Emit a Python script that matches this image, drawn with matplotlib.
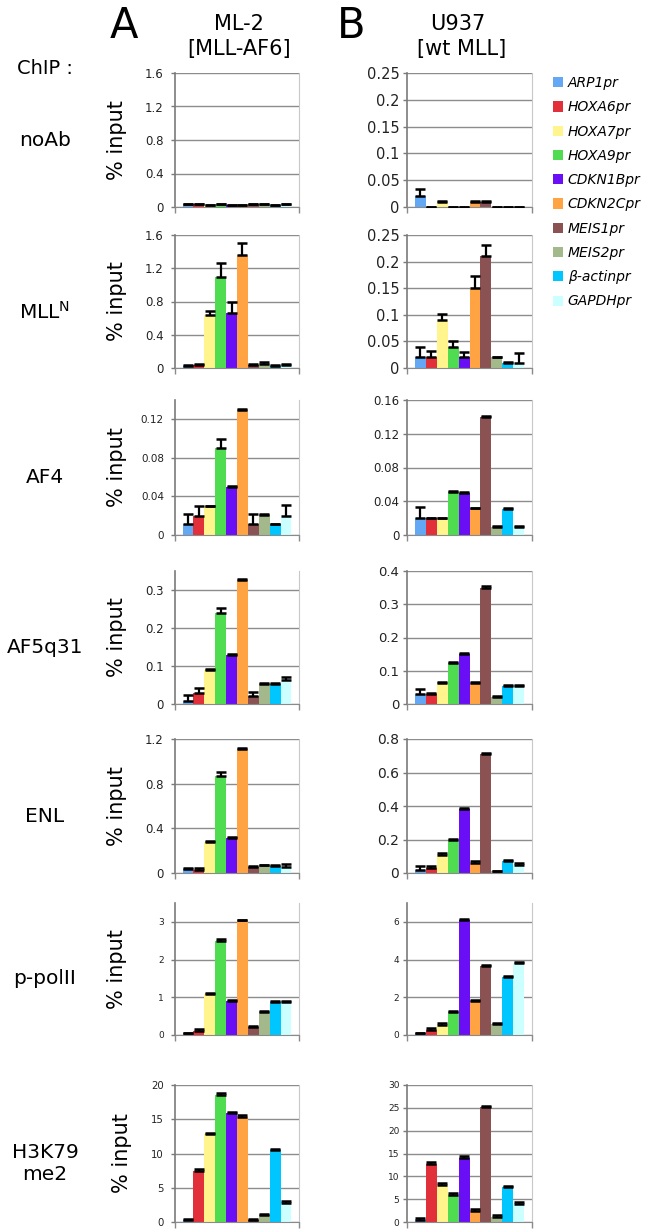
import matplotlib
matplotlib.use('Agg')
import matplotlib.pyplot as plt
from matplotlib.patches import Patch
from matplotlib.ticker import MultipleLocator, FuncFormatter
import numpy as np

genes = ['ARP1pr', 'HOXA6pr', 'HOXA7pr', 'HOXA9pr', 'CDKN1Bpr', 'CDKN2Cpr',
         'MEIS1pr', 'MEIS2pr', 'β-actinpr', 'GAPDHpr']
colors = ['#62a8f5', '#e1303a', '#fff58c', '#50dc50', '#6a0ff5', '#ffa343',
          '#8a5252', '#a3b98c', '#00c6ff', '#ccffff']
chip_labels = ['noAb', r'MLL$^\mathregular{N}$', 'AF4', 'AF5q31', 'ENL', 'p-polII', 'H3K79\nme2']

# column A: ML-2 [MLL-AF6]
noab_ml2 = [0.03, 0.03, 0.02, 0.03, 0.02, 0.02, 0.03, 0.03, 0.02, 0.03]
noab_ml2_err = [0.01, 0.01, 0.005, 0.01, 0.005, 0.005, 0.01, 0.01, 0.005, 0.01]
mll_ml2 = [0.03, 0.04, 0.64, 1.10, 0.66, 1.36, 0.04, 0.05, 0.03, 0.04]
mll_ml2_err = [0.01, 0.01, 0.04, 0.16, 0.14, 0.14, 0.01, 0.02, 0.01, 0.01]
af4_ml2 = [0.011, 0.02, 0.03, 0.09, 0.05, 0.13, 0.011, 0.021, 0.011, 0.02]
af4_ml2_err = [0.011, 0.01, 0.0005, 0.01, 0.0005, 0.0005, 0.011, 0.001, 0.0005, 0.011]
af5_ml2 = [0.009, 0.03, 0.09, 0.24, 0.128, 0.327, 0.022, 0.052, 0.052, 0.064]
af5_ml2_err = [0.015, 0.012, 0.003, 0.013, 0.003, 0.003, 0.009, 0.002, 0.002, 0.008]
enl_ml2 = [0.035, 0.03, 0.28, 0.87, 0.31, 1.11, 0.05, 0.07, 0.065, 0.05]
enl_ml2_err = [0.01, 0.015, 0.005, 0.035, 0.015, 0.005, 0.012, 0.005, 0.005, 0.03]
polii_ml2 = [0.04, 0.1, 1.08, 2.5, 0.91, 3.04, 0.2, 0.6, 0.87, 0.87]
polii_ml2_err = [0.02, 0.05, 0.03, 0.04, 0.03, 0.02, 0.05, 0.03, 0.03, 0.03]
h3k79_ml2 = [0.3, 7.5, 12.8, 18.6, 15.9, 15.4, 0.3, 1.0, 10.5, 2.8]
h3k79_ml2_err = [0.2, 0.2, 0.2, 0.2, 0.2, 0.2, 0.2, 0.2, 0.2, 0.2]

# column B: U937 [wt MLL]
noab_u937 = [0.02, 0, 0.01, 0, 0, 0.01, 0.01, 0, 0, 0]
noab_u937_err = [0.013, 0, 0.001, 0, 0, 0.001, 0.001, 0, 0, 0]
mll_u937 = [0.02, 0.02, 0.09, 0.04, 0.02, 0.15, 0.21, 0.02, 0.01, 0.01]
mll_u937_err = [0.02, 0.012, 0.011, 0.01, 0.01, 0.022, 0.022, 0.001, 0.001, 0.018]
af4_u937 = [0.02, 0.02, 0.02, 0.051, 0.05, 0.032, 0.14, 0.01, 0.031, 0.01]
af4_u937_err = [0.013, 0.0005, 0.0005, 0.001, 0.001, 0.0005, 0.001, 0.0005, 0.0005, 0.0005]
af5_u937 = [0.03, 0.03, 0.062, 0.122, 0.149, 0.062, 0.35, 0.022, 0.053, 0.053]
af5_u937_err = [0.016, 0.002, 0.003, 0.003, 0.004, 0.003, 0.004, 0.002, 0.003, 0.003]
enl_u937 = [0.02, 0.03, 0.11, 0.20, 0.38, 0.06, 0.71, 0.01, 0.07, 0.05]
enl_u937_err = [0.02, 0.01, 0.01, 0.004, 0.01, 0.01, 0.005, 0.002, 0.01, 0.01]
polii_u937 = [0.08, 0.28, 0.55, 1.2, 6.08, 1.8, 3.66, 0.58, 3.08, 3.84]
polii_u937_err = [0.04, 0.08, 0.08, 0.08, 0.05, 0.08, 0.06, 0.05, 0.05, 0.05]
h3k79_u937 = [0.5, 12.8, 8.2, 6.0, 14.1, 2.5, 25.2, 1.2, 7.6, 4.0]
h3k79_u937_err = [0.3, 0.3, 0.3, 0.3, 0.3, 0.3, 0.3, 0.3, 0.3, 0.3]

col_a = [(noab_ml2, noab_ml2_err), (mll_ml2, mll_ml2_err), (af4_ml2, af4_ml2_err),
         (af5_ml2, af5_ml2_err), (enl_ml2, enl_ml2_err), (polii_ml2, polii_ml2_err),
         (h3k79_ml2, h3k79_ml2_err)]
col_b = [(noab_u937, noab_u937_err), (mll_u937, mll_u937_err), (af4_u937, af4_u937_err),
         (af5_u937, af5_u937_err), (enl_u937, enl_u937_err), (polii_u937, polii_u937_err),
         (h3k79_u937, h3k79_u937_err)]

ylim_a = [1.6, 1.6, 0.14, 0.35, 1.2, 3.5, 20]
step_a = [0.4, 0.4, 0.04, 0.1, 0.4, 1, 5]
ylim_b = [0.25, 0.25, 0.16, 0.4, 0.8, 7, 30]
step_b = [0.05, 0.05, 0.04, 0.1, 0.2, 2, 5]
tick_fs_a = [8.5, 8.5, 7.5, 8.5, 8.5, 6.5, 7.3]
tick_fs_b = [10.5, 10.5, 8.5, 9.5, 10, 6.5, 6.5]

W, H = 659, 1230
tops = [73, 235, 400, 571, 739, 903, 1085]
bottoms = [207, 368, 535, 704, 873, 1035, 1222]

fig = plt.figure(figsize=(W / 100, H / 100), dpi=100)


def px_axes(left, top, right, bottom):
    return fig.add_axes([left / W, 1 - bottom / H, (right - left) / W, (bottom - top) / H])


def draw_panel(ax, vals, errs, ymax, step, fs, pad):
    x = np.arange(len(vals))
    ax.bar(x, vals, width=1.0, color=colors, zorder=2)
    ax.errorbar(x, vals, yerr=[np.zeros(len(errs)), errs], fmt='none', ecolor='black',
                elinewidth=1.6, capsize=3.7, capthick=1.8, zorder=3)
    ax.set_xlim(-1.19, len(vals) - 1 + 1.19)
    ax.set_ylim(0, ymax)
    ax.yaxis.set_major_locator(MultipleLocator(step))
    ax.yaxis.set_major_formatter(FuncFormatter(lambda v, p: f'{round(v, 6):g}'))
    ax.set_xticks([-1.19, len(vals) - 1 + 1.19])
    ax.set_xticklabels([])
    ax.tick_params(axis='x', length=4, color='#8a8a8a', width=1)
    ax.tick_params(axis='y', length=3, color='#7a7a7a', width=1, labelsize=fs,
                   pad=pad, labelcolor='#222222')
    ax.grid(axis='y', color='#8c8c8c', linewidth=1, zorder=0)
    ax.set_axisbelow(True)
    ax.spines['top'].set_visible(False)
    ax.spines['left'].set_color('#7a7a7a')
    ax.spines['left'].set_linewidth(1.2)
    ax.spines['bottom'].set_color('#8a8a8a')
    ax.spines['right'].set_color('#c8c8c8')


for i in range(7):
    ax = px_axes(175, tops[i], 299, bottoms[i])
    draw_panel(ax, col_a[i][0], col_a[i][1], ylim_a[i], step_a[i], tick_fs_a[i], 5)
    ax.set_ylabel('% input', fontsize=15)
    ax.yaxis.set_label_coords(-0.39 if i < 6 else -0.35, 0.5)

    ax = px_axes(407, tops[i], 532, bottoms[i])
    draw_panel(ax, col_b[i][0], col_b[i][1], ylim_b[i], step_b[i], tick_fs_b[i], 2.5)

    yc = (tops[i] + bottoms[i]) / 2 + (0 if i == 0 else 10)
    fig.text(45 / W, 1 - yc / H, chip_labels[i], fontsize=14.5, ha='center', va='center',
             linespacing=1.2)

fig.text(17 / W, 1 - 68 / H, 'ChIP :', fontsize=14, ha='left', va='center')
fig.text(124 / W, 1 - 26 / H, 'A', fontsize=30, ha='center', va='center')
fig.text(351 / W, 1 - 26 / H, 'B', fontsize=30, ha='center', va='center')
fig.text(239 / W, 1 - 24 / H, 'ML-2', fontsize=15, ha='center', va='center')
fig.text(239 / W, 1 - 49 / H, '[MLL-AF6]', fontsize=15, ha='center', va='center')
fig.text(458 / W, 1 - 24 / H, 'U937', fontsize=15, ha='center', va='center')
fig.text(462 / W, 1 - 49 / H, '[wt MLL]', fontsize=15, ha='center', va='center')

handles = [Patch(facecolor=c, edgecolor='none') for c in colors]
leg = fig.legend(handles, genes, loc='upper left', bbox_to_anchor=(553 / W, 1 - 76 / H),
                 frameon=False, prop={'style': 'italic', 'size': 10},
                 handlelength=0.75, handleheight=0.75, handletextpad=0.3,
                 labelspacing=0.74, borderpad=0, borderaxespad=0)

plt.savefig('out.png', dpi=100)
